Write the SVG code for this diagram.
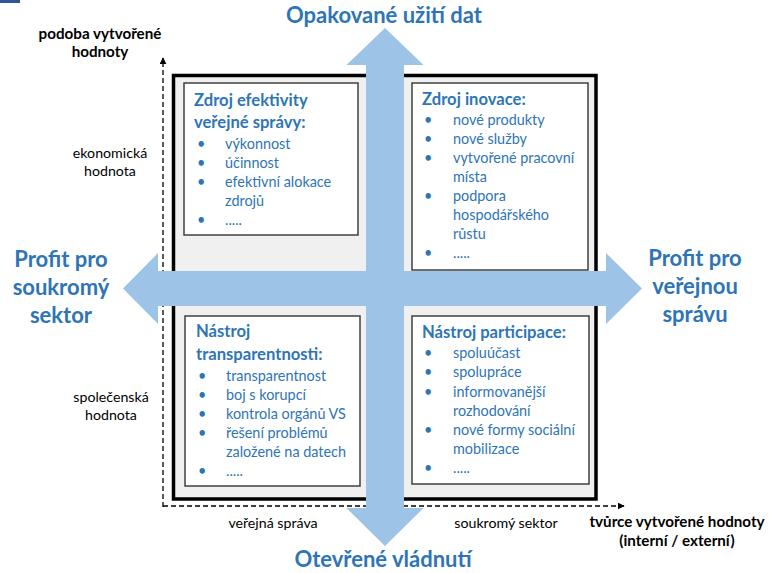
<svg xmlns="http://www.w3.org/2000/svg" width="772" height="573" viewBox="0 0 772 573">
<defs>
<style>
.ttl{font-family:Lato,"Liberation Sans",sans-serif;font-weight:bold;font-size:16.6px;fill:#2E75B6}
.itm{font-family:Lato,"Liberation Sans",sans-serif;font-size:14.4px;fill:#2E75B6}
.big{font-family:Lato,"Liberation Sans",sans-serif;font-weight:bold;font-size:22px;fill:#2E75B6;text-anchor:middle}
.lbl{font-family:Lato,"Liberation Sans",sans-serif;font-size:14.2px;fill:#000;text-anchor:middle}
.lblb{font-family:Lato,"Liberation Sans",sans-serif;font-weight:bold;font-size:15.2px;fill:#000;text-anchor:middle}
.box{fill:#fff;stroke:#404040;stroke-width:1.5}
.axis{fill:none;stroke:#000;stroke-width:1.3;stroke-dasharray:5 3}
.arr{fill:#9DC3E6}
</style>
<marker id="ah" viewBox="0 0 10 10" refX="9" refY="5" markerWidth="7" markerHeight="7" markerUnits="userSpaceOnUse" orient="auto">
<path d="M0,0 L10,5 L0,10 z" fill="#000"/>
</marker>
</defs>
<rect x="0" y="0" width="20" height="3" fill="#2F5597"/>
<g id="frame">
<rect x="173.5" y="75.5" width="422.5" height="423.5" fill="#F0F0F0" stroke="#000" stroke-width="3.5"/>
</g>
<g id="q-top-left">
<rect class="box" x="184" y="83" width="174" height="152"/>
<text class="ttl" x="194" y="106">Zdroj efektivity</text>
<text class="ttl" x="194" y="128">veřejné správy:</text>
<text class="itm" x="197" y="149">•</text><text class="itm" x="225" y="149">výkonnost</text>
<text class="itm" x="197" y="168">•</text><text class="itm" x="225" y="168">účinnost</text>
<text class="itm" x="197" y="187">•</text><text class="itm" x="225" y="187">efektivní alokace</text>
<text class="itm" x="225" y="206">zdrojů</text>
<text class="itm" x="197" y="225">•</text><text class="itm" x="225" y="225">.....</text>
</g>
<g id="q-top-right">
<rect class="box" x="412" y="83" width="176" height="187"/>
<text class="ttl" x="422" y="105">Zdroj inovace:</text>
<text class="itm" x="424" y="125">•</text><text class="itm" x="453" y="125">nové produkty</text>
<text class="itm" x="424" y="144">•</text><text class="itm" x="453" y="144">nové služby</text>
<text class="itm" x="424" y="163">•</text><text class="itm" x="453" y="163">vytvořené pracovní</text>
<text class="itm" x="453" y="182">místa</text>
<text class="itm" x="424" y="201">•</text><text class="itm" x="453" y="201">podpora</text>
<text class="itm" x="453" y="220">hospodářského</text>
<text class="itm" x="453" y="239">růstu</text>
<text class="itm" x="424" y="258">•</text><text class="itm" x="453" y="258">.....</text>
</g>
<g id="q-bottom-left">
<rect class="box" x="185" y="316" width="175" height="170"/>
<text class="ttl" x="196" y="337">Nástroj</text>
<text class="ttl" x="196" y="360">transparentnosti:</text>
<text class="itm" x="198" y="381">•</text><text class="itm" x="226" y="381">transparentnost</text>
<text class="itm" x="198" y="400">•</text><text class="itm" x="226" y="400">boj s korupcí</text>
<text class="itm" x="198" y="419">•</text><text class="itm" x="226" y="419">kontrola orgánů VS</text>
<text class="itm" x="198" y="438">•</text><text class="itm" x="226" y="438">řešení problémů</text>
<text class="itm" x="226" y="457">založené na datech</text>
<text class="itm" x="198" y="476">•</text><text class="itm" x="226" y="476">.....</text>
</g>
<g id="q-bottom-right">
<rect class="box" x="412" y="316" width="177" height="168"/>
<text class="ttl" x="422" y="338">Nástroj participace:</text>
<text class="itm" x="424" y="358">•</text><text class="itm" x="453" y="358">spoluúčast</text>
<text class="itm" x="424" y="377">•</text><text class="itm" x="453" y="377">spolupráce</text>
<text class="itm" x="424" y="397">•</text><text class="itm" x="453" y="397">informovanější</text>
<text class="itm" x="453" y="416">rozhodování</text>
<text class="itm" x="424" y="435">•</text><text class="itm" x="453" y="435">nové formy sociální</text>
<text class="itm" x="453" y="454">mobilizace</text>
<text class="itm" x="424" y="473">•</text><text class="itm" x="453" y="473">.....</text>
</g>
<g id="connectors">
<line class="axis" x1="163" y1="507" x2="163" y2="58" marker-end="url(#ah)"/>
<line class="axis" x1="163" y1="506" x2="624" y2="506" marker-end="url(#ah)"/>
<polygon class="arr" points="385,28 423.5,65 404,65 404,508 423.5,508 385,546 346.5,508 366,508 366,65 346.5,65"/>
<polygon class="arr" points="123,288.5 158,253 158,271 606,271 606,253 642,288.5 606,324 606,306 158,306 158,324"/>
</g>
<g id="label-top">
<text class="big" x="384" y="23">Opakované užití dat</text>
</g>
<g id="label-bottom">
<text class="big" x="383" y="567">Otevřené vládnutí</text>
</g>
<g id="label-left">
<text class="big" x="61" y="267">Profit pro</text>
<text class="big" x="61" y="295">soukromý</text>
<text class="big" x="61" y="323">sektor</text>
</g>
<g id="label-right">
<text class="big" x="695" y="266">Profit pro</text>
<text class="big" x="695" y="294">veřejnou</text>
<text class="big" x="695" y="322">správu</text>
</g>
<g id="y-axis-label">
<text class="lblb" x="100" y="39">podoba vytvořené</text>
<text class="lblb" x="100" y="57">hodnoty</text>
</g>
<g id="y-econ">
<text class="lbl" x="110" y="158">ekonomická</text>
<text class="lbl" x="110" y="176">hodnota</text>
</g>
<g id="y-social">
<text class="lbl" x="111" y="402">společenská</text>
<text class="lbl" x="111" y="420">hodnota</text>
</g>
<g id="x-public">
<text class="lbl" x="273" y="528">veřejná správa</text>
</g>
<g id="x-private">
<text class="lbl" x="506" y="528">soukromý sektor</text>
</g>
<g id="x-axis-label">
<text class="lblb" x="677" y="527">tvůrce vytvořené hodnoty</text>
<text class="lblb" x="677" y="546">(interní / externí)</text>
</g>
</svg>
